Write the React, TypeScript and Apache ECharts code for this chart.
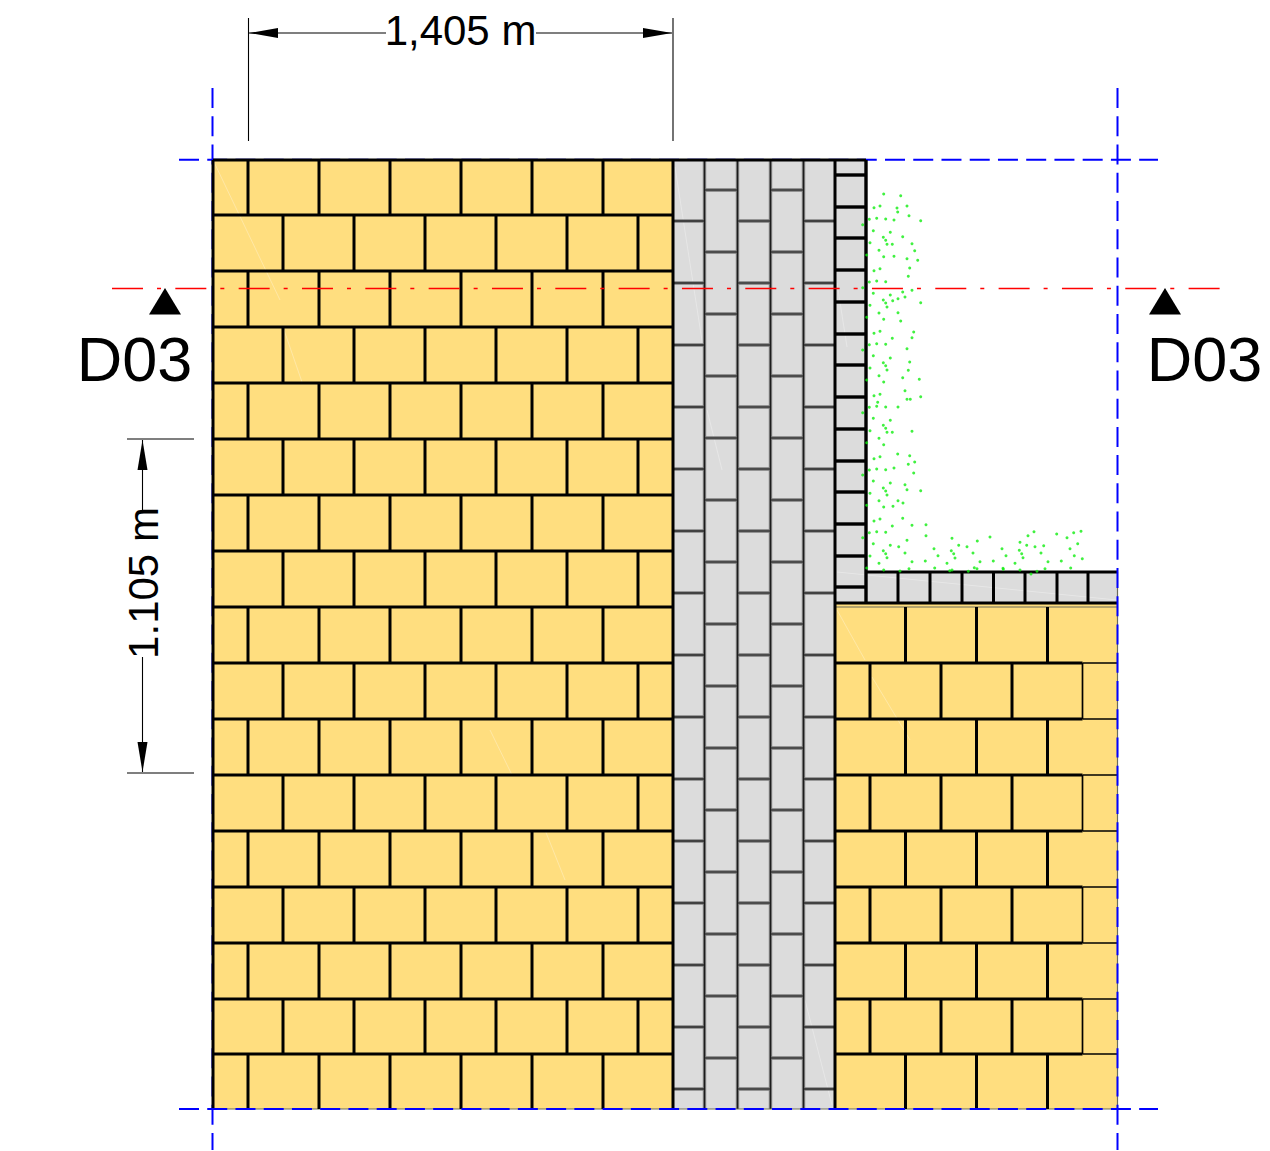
import React, { useEffect, useRef } from "react";
import * as echarts from "echarts";

const WIDTH = 1270;
const HEIGHT = 1151;

// Masonry coordinates are data values on the hidden drawing axes.
const courseLines = [160, 215, 271, 327, 383, 439, 495, 551, 607, 663, 719, 775, 831, 887, 943, 999, 1054, 1109];
const leftJointsOdd = [248, 319, 390, 461, 532, 603];
const leftJointsEven = [283, 354, 425, 496, 567, 638];
const rightJointsOdd = [905.5, 976.5, 1047.5];
const rightJointsEven = [870, 941, 1012];
const rightThinJoint = 1082.5;
const greyColumns = [704.5, 737.5, 770.5, 803.5];
const greyJointsA = [221, 283, 345, 407, 469, 531, 593, 655, 717, 779, 841, 903, 965, 1027, 1089];
const greyJointsB = [190, 252, 314, 376, 438, 500, 562, 624, 686, 748, 810, 872, 934, 996, 1058];
const blockJoints = [175, 207, 238, 270, 302, 334, 365, 397, 429, 461, 492, 524, 556, 587];
const footJoints = [898, 930, 962, 993.5, 1025, 1057, 1088];

const greenX = [883.7,900.7,874,880,897,907,897.7,909,869.3,876.7,885.7,894,920.7,862.7,873.3,890.3,883.3,902.7,885.7,870,887,892.3,912,879,914.7,866.7,883.7,894,907,917.7,874,880,909.7,908.3,869.3,876.7,885.7,862.7,912,902.7,873.3,890.3,905,898,883.3,892.7,885.7,870,920.7,887,879,898,866.7,883.7,900.7,874,880,913.7,912,892.3,869.3,876.7,885.7,907,862.7,873.3,890.3,883.3,909.7,885.7,870,887,908.3,879,902.7,919.3,866.7,883.7,905,874,880,920.7,907,910.3,877.7,869.3,876.7,885.7,898,862.7,873.3,890.3,883.3,885.7,870,887,892.3,912,879,866.7,883.7,897.7,909.7,874,880,914.7,908.3,894,869.3,876.7,885.7,913.7,862.7,873.3,890.3,905,883.3,907,920.7,885.7,870,887,879,898,903,866.7,883.7,893,902.7,874,880,912,926,892.3,869.3,876.7,885.7,926,862.7,907,873.3,890.3,898.7,934,883.3,885.7,905,870,938,887,912,925.3,879,866.7,909,934.7,883.7,900,952,977.3,990,958.7,967,951.3,953.7,955,973,1002,1006,1020,1028,1034,1026.7,1035,1043.7,1019.3,1021.7,1023,1041,1056.7,1067,1073.7,1081,1077.7,1070,1074.3,1082.3,1048,1061.3,1070.7,1045,1015,993.3,980,947,974.3,977,952,949.7,1003,1003.3,1020,1037,1031,968.3];
const greenY = [194,195.7,207.7,206,208,206,212,215.7,219.3,218.3,219,220,220.7,224.7,230.7,232.3,237.3,236.7,240.3,242.7,244.3,244.3,243.7,250.3,250.7,255,256.7,256.3,258.7,260.3,270.7,268.7,268,276.3,282,281,281.7,287.7,290.3,292,293.3,295,297,298.7,300,300.7,303,305.3,302.7,307,313,312.7,317.3,319.3,321,333.3,331.3,332,337.7,338.3,344.7,343.7,344.3,348.7,350,355.7,358,362.7,362,365.7,368,370,370.3,375.7,377.7,379.3,380,382,390.7,395.7,394.3,396.7,399.3,399.3,402.3,407.3,406.3,407,407,412.7,418.3,420.3,425.3,428.3,430.7,432.3,432.3,431.3,438.3,442.7,444.7,454,455.7,458.7,456.7,462,464.3,468,470,469,469.7,473,475,481,483,484.7,488,489.7,490.7,491,493.3,495,500.7,500.7,503,505.3,507,506.3,518.3,521,519,525.3,524.7,526,532.7,531.7,532.3,535.7,537.7,540.3,543.7,545.3,546.7,548.7,550.7,553.7,553,556,555.7,557.7,561.7,561,563.3,568,568.7,568,570,571,538.3,541,537,545.3,546.7,550.7,553.7,558,553,548.7,555.7,542.3,535.7,531.7,545.3,546.7,545.7,550.3,553.7,557.7,553,534,537.7,532.7,531.3,543.7,548.7,555.7,558.7,561.7,561,568,568.7,563.3,561,561.7,563.3,567.7,568.7,570,570.7,568.3,569.3,570,571.3,574,571.3];

const streaks = [
  [213, 160, 280, 300], [284, 330, 302, 382], [837, 610, 865, 660], [872, 677, 910, 740],
  [675, 167, 703, 347], [837, 283, 847, 347], [837, 572, 1117, 600], [490, 730, 512, 775],
  [707, 410, 722, 470], [805, 1000, 832, 1105], [545, 830, 565, 880],
];

const dimensionLabels = ["1,405 m", "1.105 m", "D03", "D03"];
const dimensionLabelPlaces = [
  [460.5, 30, 0],
  [143, 583, 1],
  [134.5, 359, 0],
  [1204.5, 359, 0],
];
const labelSizes = [42, 42, 63, 63];

const fills = [
  [213, 160, 673, 1109, "#FFDE7F"],
  [835, 603, 1117, 1109, "#FFDE7F"],
  [673, 160, 835, 1109, "#DCDCDC"],
  [835, 160, 866, 603, "#DCDCDC"],
  [866, 572, 1117, 603, "#DCDCDC"],
];

const triangles = [
  [165, 288, 149, 314.5, 181, 314.5],
  [1165, 288, 1149, 314.5, 1181, 314.5],
  [249, 33, 278, 28, 278, 38],
  [672, 33, 643, 28, 643, 38],
  [142.5, 440, 137.5, 470, 147.5, 470],
  [142.5, 772, 137.5, 742, 147.5, 742],
];

const dimensionLines = [
  [248.5, 18, 248.5, 141], [673, 18, 673, 141], [249, 33, 386, 33], [536, 33, 672, 33],
  [127, 439, 194, 439], [127, 773, 194, 773], [142.5, 440, 142.5, 510], [142.5, 657, 142.5, 772],
];
const blueUnder = [[179, 159.8, 1158, 159.8], [212.5, 88, 212.5, 1150]];
const blueOver = [[179, 1109, 1158, 1109], [1117.5, 88, 1117.5, 1150]];
const edgeLines = [[213, 1109, 1117, 1109], [1117.5, 572, 1117.5, 1109], [835, 607, 1117, 607]];
const redLines = [[112, 288.5, 1221, 288.5]];

function buildMasonry() {
  const bold: number[][] = [];
  const heavy: number[][] = [];
  const thin: number[][] = [];
  const greySoft: number[][] = [];

  courseLines.slice(0, -1).forEach((y) => bold.push([213, y, 673, y]));
  courseLines.slice(0, -1).forEach((y, i) => {
    const next = courseLines[i + 1];
    (i % 2 === 0 ? leftJointsOdd : leftJointsEven).forEach((x) => bold.push([x, y, x, next]));
  });
  bold.push([213, 160, 213, 1109], [673, 160, 673, 1109]);

  greyColumns.forEach((x) => greySoft.push([x, 160, x, 1109]));
  const greyColumnEdges = [673, ...greyColumns, 835];
  greyColumnEdges.slice(0, -1).forEach((x, i) => {
    (i % 2 === 0 ? greyJointsA : greyJointsB).forEach((y) => greySoft.push([x, y, greyColumnEdges[i + 1], y]));
  });

  bold.push([835, 160, 835, 1109], [673, 160, 866, 160]);
  heavy.push([866, 160, 866, 603]);
  blockJoints.forEach((y) => heavy.push([835, y, 866, y]));
  bold.push([835, 603, 1117, 603], [866, 572, 1117, 572]);
  footJoints.forEach((x) => bold.push([x, 572, x, 603]));

  const rightCourses = courseLines.filter((y) => y >= 607);
  rightCourses.slice(0, -1).forEach((y, i) => {
    const next = rightCourses[i + 1];
    if (i % 2 === 0) {
      rightJointsOdd.forEach((x) => bold.push([x, y, x, next]));
    } else {
      rightJointsEven.forEach((x) => bold.push([x, y, x, next]));
      thin.push([rightThinJoint, y, rightThinJoint, next]);
    }
    if (i > 0) {
      bold.push([835, y, rightThinJoint, y]);
      thin.push([rightThinJoint, y, 1117, y]);
    }
  });
  return { bold, heavy, thin, greySoft };
}

function segmentSeries(name: string, data: number[][], color: string, width: number, dash?: number[]) {
  return {
    type: "custom",
    name,
    silent: true,
    data,
    renderItem: (_: unknown, api: any) => {
      const a = api.coord([api.value(0), api.value(1)]);
      const b = api.coord([api.value(2), api.value(3)]);
      return {
        type: "line",
        shape: { x1: a[0], y1: a[1], x2: b[0], y2: b[1] },
        style: { stroke: color, lineWidth: width, lineDash: dash, fill: null },
      };
    },
  };
}

export default function App() {
  const ref = useRef<HTMLDivElement>(null);

  useEffect(() => {
    if (!ref.current) return;
    const chart = echarts.init(ref.current, undefined, { renderer: "svg" });
    const { bold, heavy, thin, greySoft } = buildMasonry();

    chart.setOption({
      animation: false,
      backgroundColor: "#ffffff",
      tooltip: { show: false },
      grid: { left: 0, right: 0, top: 0, bottom: 0 },
      xAxis: { type: "value", min: 0, max: WIDTH, show: false },
      yAxis: { type: "value", min: 0, max: HEIGHT, inverse: true, show: false },
      series: [
        {
          type: "custom",
          name: "fills",
          silent: true,
          data: fills.map((f) => f.slice(0, 4)),
          renderItem: (params: any, api: any) => {
            const a = api.coord([api.value(0), api.value(1)]);
            const b = api.coord([api.value(2), api.value(3)]);
            return {
              type: "rect",
              shape: { x: a[0], y: a[1], width: b[0] - a[0], height: b[1] - a[1] },
              style: { fill: fills[params.dataIndex][4] as string },
            };
          },
        },
        segmentSeries("streaks", streaks, "rgba(255,255,255,0.3)", 1),
        segmentSeries("blueUnder", blueUnder, "#0000FF", 2, [20, 8.24]),
        segmentSeries("greySoft", greySoft, "#7c7c7c", 3.4),
        segmentSeries("greyCore", greySoft, "#1c1c1c", 1.2),
        segmentSeries("edges", edgeLines, "#6a6a5a", 1.2),
        segmentSeries("thin", thin, "#000000", 1.7),
        segmentSeries("bold", bold, "#000000", 3),
        segmentSeries("heavy", heavy, "#000000", 3.4),
        segmentSeries("blueOver", blueOver, "#0000FF", 2, [20, 8.24]),
        {
          type: "scatter",
          name: "green",
          silent: true,
          symbol: "circle",
          symbolSize: 3,
          itemStyle: { color: "#10EE10" },
          data: greenX.map((x, i) => [x, greenY[i]]),
        },
        segmentSeries("red", redLines, "#FF0000", 1.7, [31, 14, 4, 14.33]),
        segmentSeries("dimensions", dimensionLines, "#000000", 1.1),
        {
          type: "custom",
          name: "arrows",
          silent: true,
          data: triangles,
          renderItem: (_: unknown, api: any) => ({
            type: "polygon",
            shape: {
              points: [0, 2, 4].map((i) => api.coord([api.value(i), api.value(i + 1)])),
            },
            style: { fill: "#000000" },
          }),
        },
        {
          type: "custom",
          name: "labels",
          silent: true,
          data: dimensionLabelPlaces,
          renderItem: (params: any, api: any) => {
            const p = api.coord([api.value(0), api.value(1)]);
            return {
              type: "text",
              x: p[0],
              y: p[1],
              rotation: api.value(2) ? Math.PI / 2 : 0,
              style: {
                text: dimensionLabels[params.dataIndex],
                fontFamily: "Liberation Sans",
                fontSize: labelSizes[params.dataIndex],
                fill: "#000000",
                align: "center",
                verticalAlign: "middle",
              },
            };
          },
        },
      ],
    });
    return () => chart.dispose();
  }, []);

  return <div ref={ref} style={{ position: "absolute", left: 0, top: 0, width: WIDTH, height: HEIGHT }} />;
}
